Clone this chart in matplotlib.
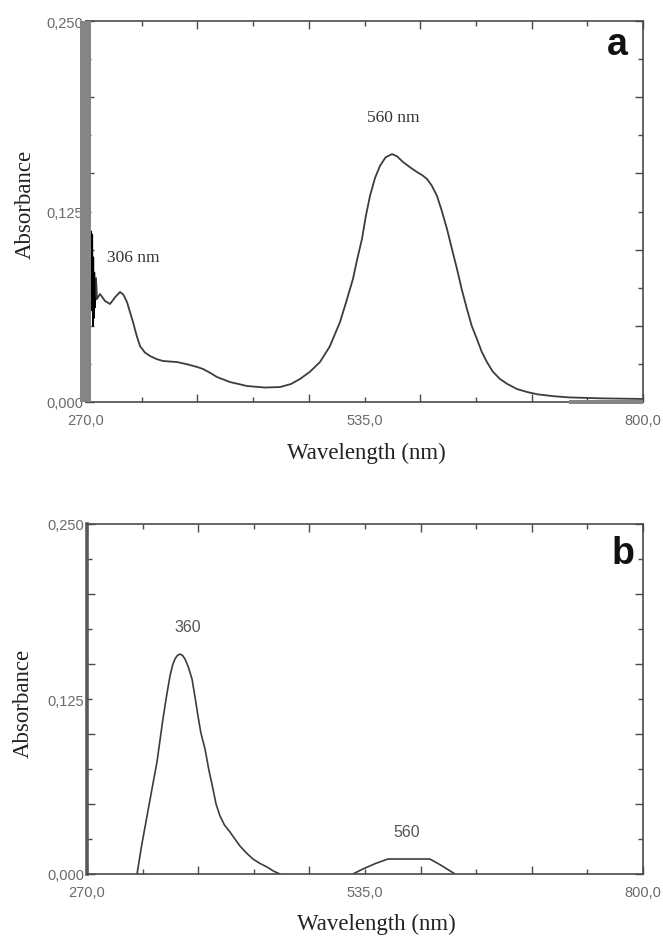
import matplotlib
matplotlib.use('Agg')
import matplotlib.pyplot as plt
import matplotlib.transforms as mtransforms
from matplotlib.patches import Rectangle

# ---- data ----
# panel a: main absorption spectrum
wl_a = [279.0, 279.5, 280.5, 283.3, 288.1, 292.8, 298.0, 302.4, 305.5, 309.0,
        314.7, 318.0, 321.4, 326.0, 330.9, 337.0, 343.3, 356.6, 366.0, 375.6,
        381.3, 388.0, 394.6, 407.0, 423.2, 440.0, 454.6, 465.0, 473.6, 483.0,
        492.6, 502.0, 511.7, 517.5, 524.0, 528.0, 532.6, 536.0, 540.2, 545.0,
        549.7, 555.0, 561.2, 566.0, 571.6, 578.0, 584.9, 590.0, 594.5, 599.0,
        604.0, 608.5, 613.5, 618.0, 623.0, 627.5, 632.5, 637.0, 642.0, 646.5,
        651.5, 657.0, 663.9, 671.0, 680.1, 690.0, 700.0, 715.0, 730.0, 760.0,
        800.0]
abs_a = [0.0676, 0.0813, 0.0676, 0.0709, 0.0663, 0.0643, 0.0690, 0.0722, 0.0705, 0.0656,
         0.0525, 0.0440, 0.0367, 0.0325, 0.0302, 0.0282, 0.0269, 0.0262, 0.0248, 0.0230,
         0.0217, 0.0192, 0.0164, 0.0131, 0.0105, 0.0095, 0.0098, 0.0118, 0.0151, 0.0198,
         0.0262, 0.0365, 0.0525, 0.0655, 0.0807, 0.0935, 0.1070, 0.1210, 0.1352, 0.1470,
         0.1549, 0.1605, 0.1627, 0.1612, 0.1575, 0.1542, 0.1509, 0.1488, 0.1463, 0.1420,
         0.1352, 0.1255, 0.1135, 0.1010, 0.0873, 0.0740, 0.0610, 0.0500, 0.0413, 0.0330,
         0.0262, 0.0200, 0.0151, 0.0118, 0.0085, 0.0065, 0.0050, 0.0038, 0.0030, 0.0024,
         0.0020]
# noisy detector region at the start of panel a
noise_wl = [272.0, 272.5, 273.0, 273.5, 274.0, 274.5, 275.0, 275.5, 276.0, 276.5,
            277.0, 277.5, 278.0, 278.5, 279.0]
noise_abs = [0.118, 0.096, 0.116, 0.092, 0.114, 0.098, 0.112, 0.060, 0.110, 0.050,
             0.095, 0.055, 0.085, 0.062, 0.0676]

# panel b: two separate bands
wl_b1 = [317.7, 322.0, 327.2, 332.0, 336.7, 342.4, 345.8, 349.1, 351.5, 353.9,
         356.0, 358.6, 361.0, 363.4, 366.5, 370.1, 373.0, 375.8, 378.5, 382.5,
         386.0, 390.1, 393.0, 396.8, 401.0, 406.3, 411.0, 415.8, 422.0, 428.2,
         435.0, 441.6, 448.0, 454.0]
abs_b1 = [0.0, 0.0200, 0.0414, 0.0610, 0.0800, 0.1107, 0.1270, 0.1414, 0.1490, 0.1536,
          0.1560, 0.1571, 0.1562, 0.1536, 0.1480, 0.1393, 0.1262, 0.1129, 0.1010, 0.0893,
          0.0750, 0.0607, 0.0500, 0.0414, 0.0350, 0.0300, 0.0250, 0.0200, 0.0150, 0.0107,
          0.0075, 0.0050, 0.0020, 0.0]
wl_b2 = [523.5, 533.1, 545.0, 556.9, 596.9, 608.0, 620.8]
abs_b2 = [0.0, 0.0036, 0.0075, 0.0107, 0.0107, 0.0060, 0.0]

x_label_ticks = [270, 535, 800]
x_label_text = ['270,0', '535,0', '800,0']
y_label_ticks = [0.0, 0.125, 0.25]
y_label_text = ['0,000', '0,125', '0,250']

SERIF = ['Liberation Serif', 'DejaVu Serif']
SANS = ['Liberation Sans Narrow', 'Liberation Sans', 'DejaVu Sans']
SPINE = '#4a4a4a'
TICKLBL = '#6a6a6a'
CURVE = '#3c3c3c'


def style_axes(ax):
    ax.set_xlim(270, 800)
    ax.set_ylim(0, 0.25)
    for s in ax.spines.values():
        s.set_color(SPINE)
        s.set_linewidth(1.2)
    xt = [270 + 53 * k for k in range(11)]
    yt = [0.025 * k for k in range(11)]
    ax.set_xticks(xt, [x_label_text[x_label_ticks.index(v)] if v in x_label_ticks else ''
                       for v in xt])
    ax.set_yticks(yt, [y_label_text[y_label_ticks.index(round(v, 3))]
                       if round(v, 3) in y_label_ticks else '' for v in yt])
    ax.tick_params(direction='in', top=True, right=True, length=5, width=1,
                   color=SPINE, labelcolor=TICKLBL, labelsize=10.5)
    ax.tick_params(axis='x', pad=8)
    ax.tick_params(axis='y', pad=2)
    # long ticks on even steps, short ones in between
    for i, t in enumerate(ax.xaxis.get_major_ticks()):
        ln = 6 if i % 2 == 0 else 3.5
        t.tick1line.set_markersize(ln)
        t.tick2line.set_markersize(ln)
    for i, t in enumerate(ax.yaxis.get_major_ticks()):
        ln = 6 if i % 2 == 0 else 3.5
        t.tick1line.set_markersize(ln)
        t.tick2line.set_markersize(ln)
    for lbl in ax.get_xticklabels() + ax.get_yticklabels():
        lbl.set_family(SANS)


fig = plt.figure(figsize=(6.63, 9.37), dpi=100)
fig.patch.set_facecolor('white')

# ---------------- panel a ----------------
ax_a = fig.add_axes([86 / 663, 1 - 403 / 937, 557 / 663, 381 / 937])
style_axes(ax_a)
ax_a.plot(wl_a, abs_a, color=CURVE, lw=1.3, solid_joinstyle='round')
ax_a.plot(noise_wl, noise_abs, color='black', lw=1.1)
# grey band along the left edge and lower right of the recorder trace
ax_a.add_patch(Rectangle((-6 / 557, 0), 11 / 557, 1, transform=ax_a.transAxes,
                         facecolor='#858585', edgecolor='none', clip_on=False, zorder=3))
blend = mtransforms.blended_transform_factory(ax_a.transData, ax_a.transAxes)
ax_a.add_patch(Rectangle((730, -0.006), 70, 0.012, transform=blend,
                         facecolor='#858585', edgecolor='none', clip_on=False, zorder=3))

ax_a.text(314.7, 0.095, '306 nm', family=SERIF, fontsize=12.5, color='#333333',
          ha='center', va='center')
ax_a.text(562, 0.187, '560 nm', family=SERIF, fontsize=12.5, color='#333333',
          ha='center', va='center')
ax_a.text(0.953, 0.94, 'a', transform=ax_a.transAxes, family=['Liberation Sans', 'DejaVu Sans'],
          fontweight='bold', fontsize=27, ha='center', va='center', color='#111111')
ax_a.set_xlabel('Wavelength (nm)', family=SERIF, fontsize=16.5, color='#222222', va='center')
ax_a.set_ylabel('Absorbance', family=SERIF, fontsize=16.5, color='#222222', va='center')
ax_a.xaxis.set_label_coords(0.503, -0.131)
ax_a.yaxis.set_label_coords(-0.1095, 0.52)

# ---------------- panel b ----------------
ax_b = fig.add_axes([87 / 663, 1 - 875 / 937, 556 / 663, 350 / 937])
style_axes(ax_b)
ax_b.spines['left'].set_linewidth(2.6)
ax_b.spines['left'].set_color('#5a5a5a')
ax_b.plot(wl_b1, abs_b1, color=CURVE, lw=1.2, solid_joinstyle='round')
ax_b.plot(wl_b2, abs_b2, color=CURVE, lw=1.2, solid_joinstyle='round')

ax_b.text(366.3, 0.177, '360', family=SANS, fontsize=11.5, color='#555555',
          ha='center', va='center')
ax_b.text(575, 0.030, '560', family=SANS, fontsize=11.5, color='#555555',
          ha='center', va='center')
ax_b.text(0.964, 0.917, 'b', transform=ax_b.transAxes, family=['Liberation Sans', 'DejaVu Sans'],
          fontweight='bold', fontsize=27, ha='center', va='center', color='#111111')
ax_b.set_xlabel('Wavelength (nm)', family=SERIF, fontsize=16.5, color='#222222', va='center')
ax_b.set_ylabel('Absorbance', family=SERIF, fontsize=16.5, color='#222222', va='center')
ax_b.xaxis.set_label_coords(0.52, -0.141)
ax_b.yaxis.set_label_coords(-0.115, 0.491)

fig.savefig('out.png', dpi=100, facecolor='white')
plt.close(fig)
